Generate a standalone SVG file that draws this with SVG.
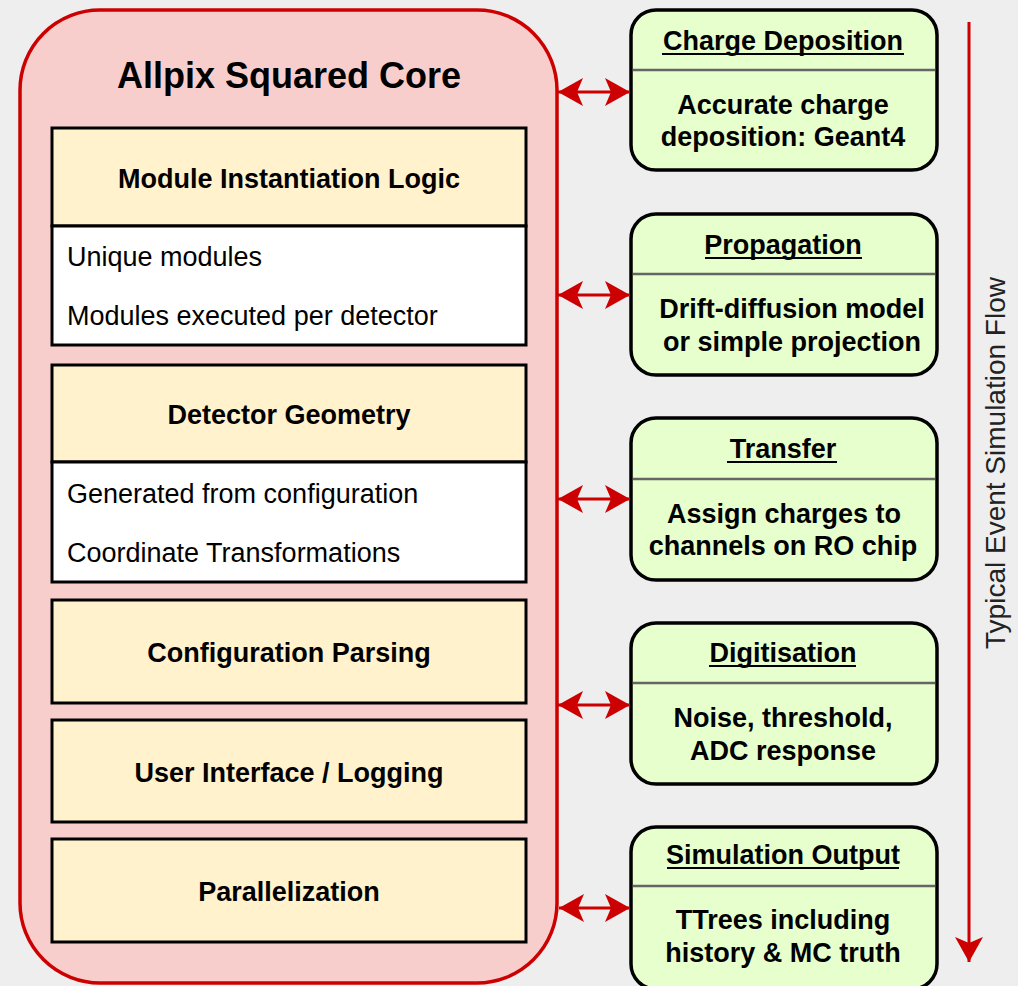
<svg xmlns="http://www.w3.org/2000/svg" width="1018" height="986" viewBox="0 0 1018 986">
<defs>
<style>
text{font-family:"Liberation Sans",Arial,sans-serif;fill:#000}
.b{font-weight:bold;font-size:27px}
.r{font-size:27px}
.c{text-anchor:middle}
.hdr{fill:#fff2cc;stroke:#000;stroke-width:3}
.bod{fill:#ffffff;stroke:#000;stroke-width:3}
.stage{fill:#e6ffcc;stroke:#000;stroke-width:3.5}
.div{stroke:#666;stroke-width:2.5}
.ul{stroke:#000;stroke-width:1.8}
.conn{stroke:#cc0000;stroke-width:3;fill:none}
</style>
<marker id="ah" viewBox="0 0 26 28" refX="25" refY="14" markerWidth="26" markerHeight="28" markerUnits="userSpaceOnUse" orient="auto-start-reverse">
<path d="M25,14 L0,0 L6,14 L0,28 Z" fill="#cc0000"/>
</marker>
</defs>
<rect x="0" y="0" width="1018" height="986" fill="#eeeeee"/>

<g id="core">
<rect x="20" y="10" width="537" height="973" rx="80" ry="80" fill="#f8cecc" stroke="#cc0000" stroke-width="3.5"/>
<text x="289" y="88" class="c" style="font-size:36px;font-weight:bold">Allpix Squared Core</text>
</g>

<g id="module-instantiation">
<rect x="52" y="128" width="474" height="98" class="hdr"/>
<rect x="52" y="226" width="474" height="119" class="bod"/>
<text x="289" y="188" class="b c">Module Instantiation Logic</text>
<text x="67" y="266" class="r">Unique modules</text>
<text x="67" y="325" class="r">Modules executed per detector</text>
</g>

<g id="detector-geometry">
<rect x="52" y="365" width="474" height="97" class="hdr"/>
<rect x="52" y="462" width="474" height="120" class="bod"/>
<text x="289" y="424" class="b c">Detector Geometry</text>
<text x="67" y="503" class="r">Generated from configuration</text>
<text x="67" y="562" class="r">Coordinate Transformations</text>
</g>

<g id="configuration-parsing">
<rect x="52" y="600" width="474" height="103" class="hdr"/>
<text x="289" y="662" class="b c">Configuration Parsing</text>
</g>

<g id="user-interface">
<rect x="52" y="720" width="474" height="102" class="hdr"/>
<text x="289" y="782" class="b c">User Interface / Logging</text>
</g>

<g id="parallelization">
<rect x="52" y="839" width="474" height="103" class="hdr"/>
<text x="289" y="901" class="b c">Parallelization</text>
</g>

<g id="charge-deposition">
<rect x="631" y="10" width="306" height="160" rx="25" ry="25" class="stage"/>
<line x1="633" y1="70" x2="935" y2="70" class="div"/>
<text x="783" y="50" class="b c">Charge Deposition</text>
<line x1="662" y1="54" x2="904" y2="54" class="ul"/>
<text x="783" y="114" class="b c">Accurate charge</text>
<text x="783" y="146" class="b c">deposition: Geant4</text>
</g>

<g id="propagation">
<rect x="631" y="214" width="306" height="161" rx="25" ry="25" class="stage"/>
<line x1="633" y1="274" x2="935" y2="274" class="div"/>
<text x="783" y="254" class="b c">Propagation</text>
<line x1="705" y1="258" x2="862" y2="258" class="ul"/>
<text x="792" y="318" class="b c">Drift-diffusion model</text>
<text x="792" y="351" class="b c">or simple projection</text>
</g>

<g id="transfer">
<rect x="631" y="418" width="306" height="162" rx="25" ry="25" class="stage"/>
<line x1="633" y1="479" x2="935" y2="479" class="div"/>
<text x="783" y="458" class="b c">Transfer</text>
<line x1="727" y1="462" x2="837" y2="462" class="ul"/>
<text x="784" y="523" class="b c">Assign charges to</text>
<text x="783" y="555" class="b c">channels on RO chip</text>
</g>

<g id="digitisation">
<rect x="631" y="623" width="306" height="161" rx="25" ry="25" class="stage"/>
<line x1="633" y1="683" x2="935" y2="683" class="div"/>
<text x="783" y="662" class="b c">Digitisation</text>
<line x1="709" y1="666" x2="856" y2="666" class="ul"/>
<text x="783" y="727" class="b c">Noise, threshold,</text>
<text x="783" y="760" class="b c">ADC response</text>
</g>

<g id="simulation-output">
<rect x="631" y="827" width="306" height="162" rx="25" ry="25" class="stage"/>
<line x1="633" y1="886" x2="935" y2="886" class="div"/>
<text x="783" y="864" class="b c">Simulation Output</text>
<line x1="667" y1="868" x2="899" y2="868" class="ul"/>
<text x="783" y="929" class="b c">TTrees including</text>
<text x="783" y="962" class="b c">history &amp; MC truth</text>
</g>

<g id="connectors">
<line x1="558" y1="92" x2="630" y2="92" class="conn" marker-start="url(#ah)" marker-end="url(#ah)"/>
<line x1="558" y1="295" x2="630" y2="295" class="conn" marker-start="url(#ah)" marker-end="url(#ah)"/>
<line x1="558" y1="499" x2="630" y2="499" class="conn" marker-start="url(#ah)" marker-end="url(#ah)"/>
<line x1="558" y1="705" x2="630" y2="705" class="conn" marker-start="url(#ah)" marker-end="url(#ah)"/>
<line x1="559" y1="908" x2="630" y2="908" class="conn" marker-start="url(#ah)" marker-end="url(#ah)"/>
<line x1="969" y1="22" x2="969" y2="962" class="conn" marker-end="url(#ah)"/>
</g>

<g id="flow-label">
<text x="1005" y="463" transform="rotate(-90 1005 463)" class="c" style="font-size:28px;fill:#222">Typical Event Simulation Flow</text>
</g>
</svg>
